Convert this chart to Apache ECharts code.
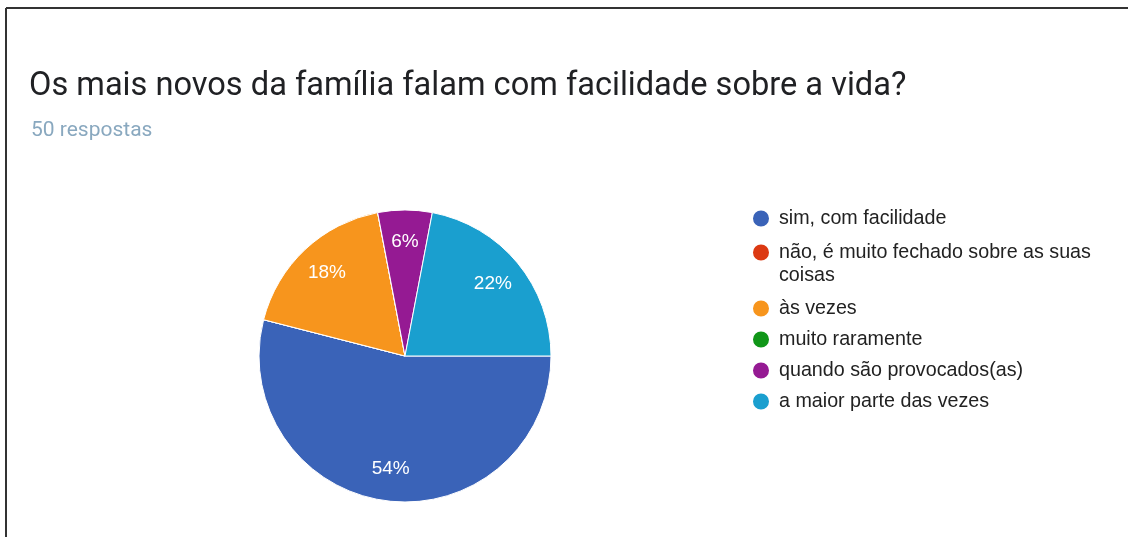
<!DOCTYPE html>
<html>
<head>
<meta charset="utf-8">
<title>Os mais novos da família</title>
<script src="https://cdn.jsdelivr.net/npm/echarts@6/dist/echarts.min.js"></script>
<style>
  html, body { margin: 0; padding: 0; background: #fff; }
  #chart { width: 1128px; height: 537px; }
</style>
</head>
<body>
<div id="chart"></div>
<script>
var titleText = 'Os mais novos da família falam com facilidade sobre a vida?';
var subText = '50 respostas';
var categories = [
    'sim, com facilidade',
    'não, é muito fechado sobre as suas coisas',
    'às vezes',
    'muito raramente',
    'quando são provocados(as)',
    'a maior parte das vezes'
];
var counts = [27, 0, 9, 0, 3, 11];
var colors = ['#3a63b8', '#dc3912', '#f7951d', '#109618', '#951a93', '#1a9fcf'];

var chart = echarts.init(document.getElementById('chart'));

var pieData = categories.map(function (name, i) {
    return { name: name, value: counts[i], itemStyle: { color: colors[i] } };
});

// legend text: long item wraps onto a second line, drawn as a separate text
function legendName(name) {
    if (name === categories[1]) return 'não, é muito fechado sobre as suas';
    return name;
}

var legendStyle = {
    orient: 'vertical',
    left: 751,
    padding: 0,
    icon: 'circle',
    itemWidth: 18,
    itemHeight: 18,
    selectedMode: false,
    formatter: legendName,
    textStyle: {
        fontFamily: 'Liberation Sans, Arial, sans-serif',
        fontSize: 19.7,
        lineHeight: 23,
        color: '#222',
        padding: [0, 0, 0, 4]
    }
};

var option = {
    animation: false,
    color: colors,
    title: [{
        text: titleText,
        left: 29,
        top: 70,
        padding: 0,
        textStyle: {
            fontFamily: 'Roboto, sans-serif',
            fontWeight: 'normal',
            fontSize: 32.6,
            color: '#202124'
        }
    }, {
        text: subText,
        left: 31,
        top: 120,
        padding: 0,
        textStyle: {
            fontFamily: 'Roboto, sans-serif',
            fontWeight: 'normal',
            fontSize: 21,
            color: '#89a8bf'
        }
    }],
    legend: [
        Object.assign({}, legendStyle, { top: 207, itemGap: 11, data: categories.slice(0, 2) }),
        Object.assign({}, legendStyle, { top: 297, itemGap: 8, data: categories.slice(2) })
    ],
    graphic: [{
        type: 'line',
        shape: { x1: 6, y1: 8, x2: 1128, y2: 8 },
        style: { stroke: '#333', lineWidth: 2 }
    }, {
        type: 'line',
        shape: { x1: 6, y1: 8, x2: 6, y2: 537 },
        style: { stroke: '#333', lineWidth: 2 }
    }, {
        type: 'text',
        left: 779,
        top: 266,
        style: {
            text: 'coisas',
            font: '19.7px "Liberation Sans", Arial, sans-serif',
            fill: '#222'
        }
    }],
    series: [{
        type: 'pie',
        center: [405, 356],
        radius: [0, 146],
        startAngle: 0,
        clockwise: true,
        silent: true,
        data: pieData,
        itemStyle: { borderColor: '#fff', borderWidth: 1 },
        label: { show: false },
        labelLine: { show: false }
    }, {
        // label ring: transparent copy so percentages sit out toward the rim
        type: 'pie',
        center: [405, 356],
        radius: [76, 146],
        startAngle: 0,
        clockwise: true,
        silent: true,
        data: categories.map(function (name, i) {
            return { name: name, value: counts[i] };
        }),
        itemStyle: { color: 'rgba(0,0,0,0)' },
        label: {
            show: true,
            position: 'inside',
            color: '#fff',
            fontFamily: 'Liberation Sans, Arial, sans-serif',
            fontSize: 19,
            formatter: function (p) {
                return p.value ? Math.round(p.percent) + '%' : '';
            }
        },
        labelLine: { show: false }
    }]
};

chart.setOption(option);
</script>
</body>
</html>
